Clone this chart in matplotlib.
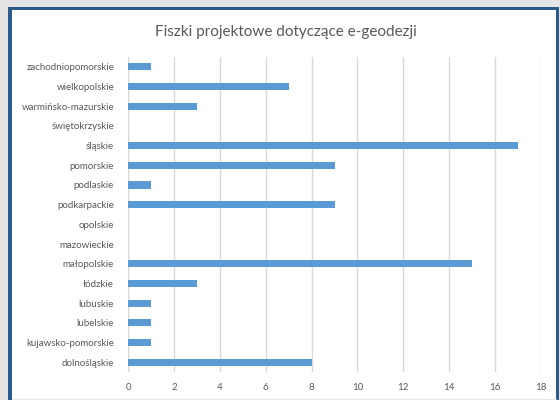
import matplotlib.pyplot as plt
from matplotlib.patches import Rectangle

plt.rcParams['font.family'] = ['Lato', 'DejaVu Sans']

regions = ["zachodniopomorskie", "wielkopolskie", "warmińsko-mazurskie", "świętokrzyskie",
           "śląskie", "pomorskie", "podlaskie", "podkarpackie", "opolskie", "mazowieckie",
           "małopolskie", "łódzkie", "lubuskie", "lubelskie", "kujawsko-pomorskie", "dolnośląskie"]
counts = [1, 7, 3, 0, 17, 9, 1, 9, 0, 0, 15, 3, 1, 1, 1, 8]
x_ticks = [0, 2, 4, 6, 8, 10, 12, 14, 16, 18]

W, H = 560, 400
fig = plt.figure(figsize=(5.6, 4.0), dpi=100, facecolor="#e4e4e4")

# window frame: blue border on left/top/right, white chart area inside
fig.patches.append(Rectangle((8 / W, 0), (559 - 8) / W, (H - 7) / H,
                             transform=fig.transFigure, facecolor="#2c5a8c",
                             edgecolor="none", zorder=-10))
fig.patches.append(Rectangle((12 / W, 0), (556 - 12) / W, (H - 10) / H,
                             transform=fig.transFigure, facecolor="white",
                             edgecolor="none", zorder=-9))
fig.patches.append(Rectangle((12 / W, 1.5 / H), (556 - 12) / W, 0,
                             transform=fig.transFigure, facecolor="none",
                             edgecolor="#e8e8e8", linewidth=1, zorder=-8))

ax = fig.add_axes([128 / W, 1 - 372 / H, (541 - 128) / W, (372 - 57) / H])
ax.set_facecolor("none")

ypos = list(range(len(regions)))
ax.barh(ypos, counts, height=0.36, color="#5b9bd5", zorder=3)

ax.set_xlim(0, 18)
ax.set_ylim(len(regions) - 0.5, -0.5)
ax.set_xticks(x_ticks)
ax.set_yticks(ypos)
ax.set_yticklabels(regions)
ax.grid(axis="x", color="#d9d9d9", linewidth=1.0, zorder=0)
ax.set_axisbelow(True)
for s in ax.spines.values():
    s.set_visible(False)
ax.axvline(0, color="#d9d9d9", linewidth=1.0, zorder=1)
ax.tick_params(axis="both", length=0, colors="#595959", labelsize=7)
ax.tick_params(axis="y", pad=10)
ax.tick_params(axis="x", pad=8)

fig.text(286 / W, 1 - 32 / H, "Fiszki projektowe dotyczące e-geodezji",
         ha="center", va="center", fontsize=11, color="#595959")

fig.savefig("out.png", dpi=100, facecolor=fig.get_facecolor())
